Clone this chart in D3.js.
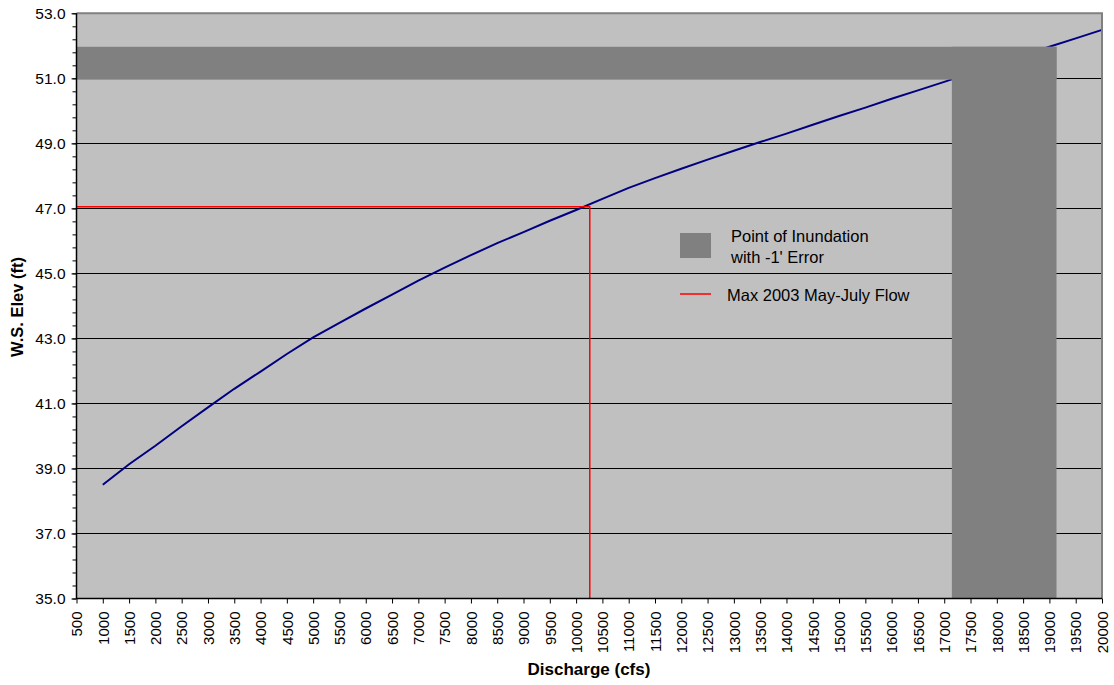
<!DOCTYPE html>
<html><head><meta charset="utf-8">
<script src="https://cdn.jsdelivr.net/npm/d3@7"></script>
<style>body{margin:0;background:#fff;}svg{display:block;font-family:"Liberation Sans",Arial,sans-serif;}</style>
</head><body><svg id="c" width="1114" height="685"></svg>
<script>
const discharge = [1000,1500,2000,2500,3000,3500,4000,4500,5000,5500,6000,6500,7000,7500,8000,8500,9000,9500,10000,10500,11000,11500,12000,12500,13000,13500,14000,14500,15000,15500,16000,16500,17000,17500,18000,18500,19000,19500,20000];
const elevation = [38.50,39.13,39.70,40.30,40.88,41.45,41.98,42.52,43.03,43.48,43.92,44.35,44.78,45.18,45.56,45.93,46.27,46.62,46.95,47.29,47.63,47.93,48.22,48.50,48.77,49.04,49.30,49.57,49.84,50.10,50.37,50.63,50.89,51.16,51.43,51.70,51.97,52.23,52.49];
const inundElev = [50.96, 51.97];
const inundFlow = [17145, 19135];
const maxFlow = 10260;
const maxElev = 47.05;
const xTicks = d3.range(500, 20001, 500);
const yTicks = d3.range(35, 53.01, 2);
const yMinor = d3.range(35, 53.01, 0.4);
const legendLabels = [["Point of Inundation", "with -1' Error"], ["Max 2003 May-July Flow"]];

const svg = d3.select("#c");
const L = 76.5, R = 1102, T = 13.3, B = 598.5;
const x = d3.scaleLinear().domain([500, 20000]).range([L, R]);
const y = d3.scaleLinear().domain([35, 53]).range([B, T]);

svg.append("rect").attr("x", L).attr("y", T).attr("width", R - L).attr("height", B - T).attr("fill", "#c0c0c0");

// gridlines
svg.append("g").selectAll("line").data(yTicks.filter(v => v > 35 && v < 53)).join("line")
  .attr("x1", L).attr("x2", R).attr("y1", d => Math.round(y(d)) + 0.5).attr("y2", d => Math.round(y(d)) + 0.5)
  .attr("stroke", "#000").attr("stroke-width", 1);

// rating curve
const line = d3.line().x((d, i) => x(discharge[i])).y(d => y(d));
svg.append("path").datum(elevation).attr("d", line).attr("fill", "none").attr("stroke", "#000080").attr("stroke-width", 2);

// inundation bands
svg.append("rect").attr("x", x(500)).attr("y", y(inundElev[1])).attr("width", x(inundFlow[1]) - x(500)).attr("height", y(inundElev[0]) - y(inundElev[1])).attr("fill", "#808080");
svg.append("rect").attr("x", x(inundFlow[0])).attr("y", y(inundElev[1])).attr("width", x(inundFlow[1]) - x(inundFlow[0])).attr("height", y(35) - y(inundElev[1])).attr("fill", "#808080");

// max flow lines
svg.append("path").attr("d", `M${x(500)},${y(maxElev)}H${x(maxFlow)}V${y(35)}`).attr("fill", "none").attr("stroke", "#ff0000").attr("stroke-width", 1.5);

// border
svg.append("path").attr("d", `M${L},${T}H${R}V${B}`).attr("fill", "none").attr("stroke", "#808080").attr("stroke-width", 2);

// axes
const yAxisG = svg.append("g").attr("transform", `translate(${L},0)`);
yAxisG.call(d3.axisLeft(y).tickValues(yMinor).tickSize(4).tickFormat(""));
const yMajor = svg.append("g").attr("transform", `translate(${L},0)`)
  .call(d3.axisLeft(y).tickValues(yTicks).tickSize(5).tickPadding(6).tickFormat(d3.format(".1f")));
[yAxisG, yMajor].forEach(g => { g.select(".domain").remove(); g.selectAll("line").attr("stroke", "#000"); });
yMajor.selectAll("text").attr("font-size", 15.5).attr("fill", "#000").attr("font-family", "Liberation Sans, Arial, sans-serif");
svg.append("line").attr("x1", L).attr("x2", L).attr("y1", T).attr("y2", B + 0.5).attr("stroke", "#000").attr("stroke-width", 1.5);

const xAxisG = svg.append("g").attr("transform", `translate(0,${B})`)
  .call(d3.axisBottom(x).tickValues(xTicks).tickSize(5).tickFormat(d3.format("d")));
xAxisG.select(".domain").remove();
xAxisG.selectAll("line").attr("stroke", "#000");
xAxisG.selectAll("text").attr("font-size", 15).attr("fill", "#000").attr("font-family", "Liberation Sans, Arial, sans-serif")
  .attr("transform", "rotate(-90)").attr("text-anchor", "end").attr("x", -13).attr("y", 0).attr("dy", "0.35em");
svg.append("line").attr("x1", L).attr("x2", R).attr("y1", B).attr("y2", B).attr("stroke", "#000").attr("stroke-width", 1.5);

// titles
svg.append("text").attr("x", 589).attr("y", 675).attr("text-anchor", "middle").attr("font-size", 17).attr("font-weight", "bold").text("Discharge (cfs)");
svg.append("text").attr("transform", `translate(23,307) rotate(-90)`).attr("text-anchor", "middle").attr("font-size", 16.5).attr("font-weight", "bold").text("W.S. Elev (ft)");

// legend
const lg = svg.append("g");
lg.append("rect").attr("x", 680).attr("y", 233).attr("width", 31).attr("height", 25).attr("fill", "#808080");
lg.append("text").attr("x", 731).attr("y", 242).attr("font-size", 16.5).text(legendLabels[0][0]);
lg.append("text").attr("x", 731).attr("y", 262.5).attr("font-size", 16.5).text(legendLabels[0][1]);
lg.append("line").attr("x1", 680).attr("x2", 711).attr("y1", 294).attr("y2", 294).attr("stroke", "#ff0000").attr("stroke-width", 1.5);
lg.append("text").attr("x", 727).attr("y", 301).attr("font-size", 16.5).text(legendLabels[1][0]);
</script></body></html>
